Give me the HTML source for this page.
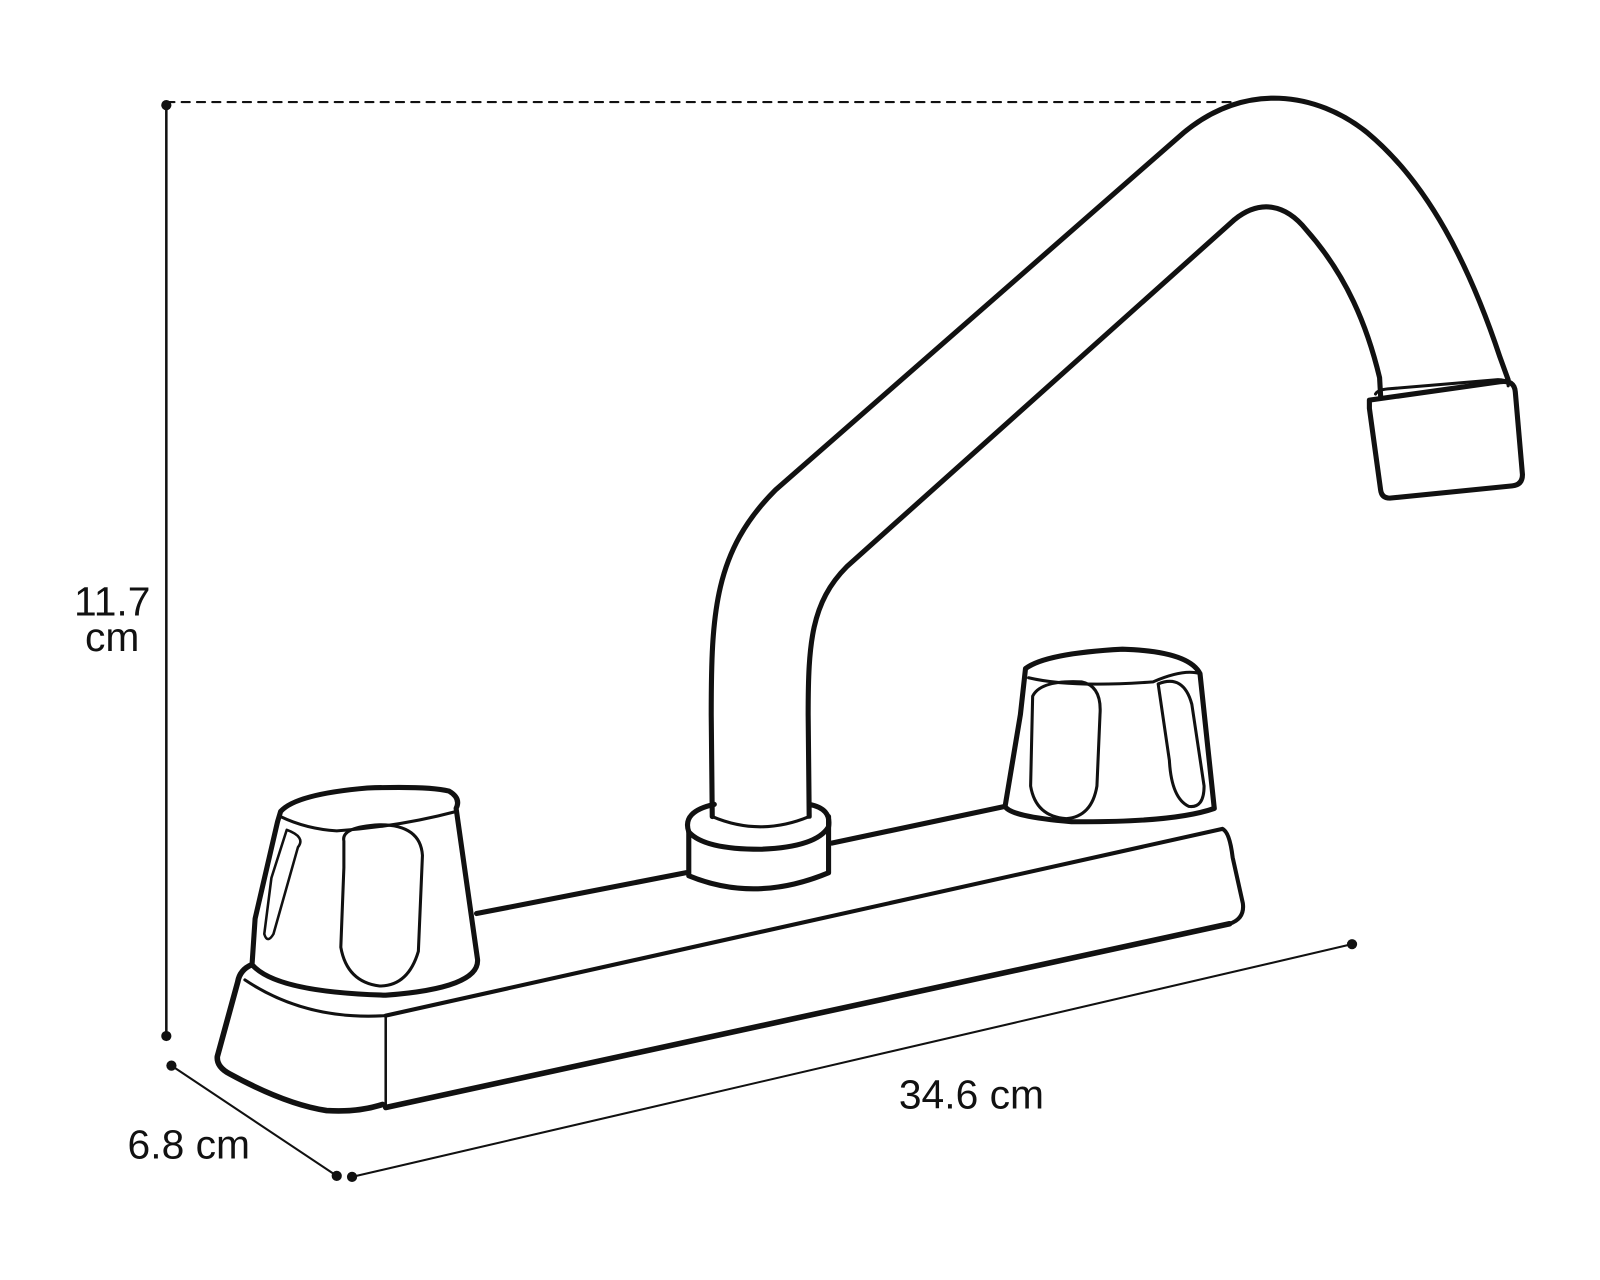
<!DOCTYPE html>
<html><head><style>
html,body{margin:0;padding:0;background:#fff;width:1600px;height:1280px;overflow:hidden}
svg{display:block}
text{font-family:"Liberation Sans",sans-serif;font-size:40px;fill:#111}
</style></head><body>
<svg width="1600" height="1280" viewBox="0 0 1568 1254" preserveAspectRatio="none">
<g fill="none" stroke="#111" stroke-linecap="round" stroke-linejoin="round">
<line x1="163" y1="100" x2="1225" y2="100" stroke-width="2" stroke-dasharray="8,7"/>
<line x1="163" y1="103" x2="163" y2="1015" stroke-width="2.5"/>
<line x1="168" y1="1044" x2="330" y2="1152" stroke-width="2"/>
<line x1="345" y1="1153" x2="1325" y2="925" stroke-width="2"/>
<path d="M698,800 L697,700 C697,600 700,540 760,480 L1160,130 C1220,80 1290,90 1340,130 C1400,180 1440,260 1470,350 L1478,372" stroke-width="5"/>
<path d="M793,800 L792,700 C792,630 795,590 830,555 L1210,215 C1235,195 1260,200 1280,225 C1320,270 1340,320 1352,370 L1353,388" stroke-width="5"/>
<path d="M1342,392 L1470,374 Q1484,372 1485,384 L1492,465 Q1492,475 1482,476 L1362,488 Q1354,488 1353,480 L1342,400 Z" fill="#fff" stroke-width="5"/>
<path d="M1348,386 Q1350,382 1360,381 L1468,372 Q1478,372 1478,378" stroke-width="3"/>
<path d="M675,815 L675,858 Q740,885 812,855 L812,800" fill="#fff" stroke-width="5"/>
<path d="M675,815 Q668,795 700,788 M793,788 Q815,792 812,810 Q800,830 745,832 Q690,832 675,815" stroke-width="5"/>
<path d="M698,800 Q745,820 793,800" stroke-width="3"/>
<line x1="467" y1="895" x2="672" y2="855" stroke-width="5"/>
<line x1="815" y1="826" x2="985" y2="790" stroke-width="5"/>
<path d="M378,995 L1198,812 Q1205,815 1208,840 L1218,885 Q1220,900 1205,905 L378,1085" stroke-width="4"/>
<path d="M378,1085 L1205,905" stroke-width="5.5"/>
<line x1="378" y1="995" x2="378" y2="1085" stroke-width="2.5"/>
<path d="M247,945 Q235,950 233,962 L213,1035 Q212,1045 225,1052 Q280,1082 320,1088 Q350,1090 375,1082" stroke-width="5.5"/>
<path d="M240,960 Q300,1000 378,995" stroke-width="3"/>
<path d="M275,795 Q290,778 360,772 Q420,770 440,775 Q452,782 447,792 L468,940 Q470,968 378,975 Q270,972 247,945 L250,900 L272,805 Z" fill="#fff" stroke-width="5"/>
<path d="M275,800 Q300,812 330,814 Q390,810 447,795" stroke-width="3"/>
<path d="M337,824 Q334,810 372,808 Q412,808 414,838 L410,932 Q400,966 372,966 Q340,962 334,928 L337,850 Z" stroke-width="3"/>
<path d="M281,813 Q300,820 292,830 L268,915 Q262,925 259,915 L266,860 Z" stroke-width="2.5"/>
<path d="M1005,655 Q1025,640 1100,636 Q1165,638 1176,660 L1190,792 Q1150,806 1050,805 Q990,800 985,790 L1000,700 Z" fill="#fff" stroke-width="5"/>
<path d="M1008,664 Q1050,674 1130,668 Q1160,655 1176,660" stroke-width="3"/>
<path d="M1012,682 Q1020,666 1060,668 Q1080,672 1078,700 L1075,770 Q1070,800 1045,802 Q1015,800 1010,770 Z" stroke-width="3"/>
<path d="M1135,670 Q1160,660 1168,690 L1180,770 Q1180,792 1165,790 Q1148,782 1146,745 Z" stroke-width="3"/>
</g>
<g fill="#111">
<circle cx="163" cy="103" r="5"/><circle cx="163" cy="1015" r="5"/>
<circle cx="168" cy="1044" r="5"/><circle cx="330" cy="1152" r="5"/>
<circle cx="345" cy="1153" r="5"/><circle cx="1325" cy="925" r="5"/>
</g>
<text x="110" y="603" text-anchor="middle">11.7</text>
<text x="110" y="638" text-anchor="middle">cm</text>
<text x="185" y="1135" text-anchor="middle">6.8 cm</text>
<text x="952" y="1086" text-anchor="middle">34.6 cm</text>
</svg>
</body></html>
